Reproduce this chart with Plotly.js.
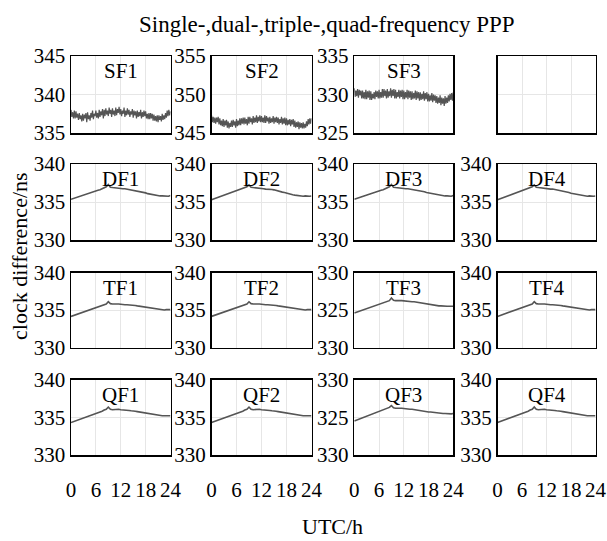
<!DOCTYPE html>
<html><head><meta charset="utf-8">
<script src="https://cdn.plot.ly/plotly-3.0.1.min.js"></script>
<style>html,body{margin:0;padding:0;background:#fff}#chart{width:607px;height:541px}</style>
</head><body><div id="chart"></div>
<script>
// sample epochs (h)
var hoursFine = [0,0.2,0.4,0.6,0.8,1,1.2,1.4,1.6,1.8,2,2.2,2.4,2.6,2.8,3,3.2,3.4,3.6,3.8,4,4.2,4.4,4.6,4.8,5,5.2,5.4,5.6,5.8,6,6.2,6.4,6.6,6.8,7,7.2,7.4,7.6,7.8,8,8.2,8.4,8.6,8.8,9,9.2,9.4,9.6,9.8,10,10.2,10.4,10.6,10.8,11,11.2,11.4,11.6,11.8,12,12.2,12.4,12.6,12.8,13,13.2,13.4,13.6,13.8,14,14.2,14.4,14.6,14.8,15,15.2,15.4,15.6,15.8,16,16.2,16.4,16.6,16.8,17,17.2,17.4,17.6,17.8,18,18.2,18.4,18.6,18.8,19,19.2,19.4,19.6,19.8,20,20.2,20.4,20.6,20.8,21,21.2,21.4,21.6,21.8,22,22.2,22.4,22.6,22.8,23,23.2,23.4,23.6,23.8,24];
var hours = [0,0.5,1,1.5,2,2.5,3,3.5,4,4.5,5,5.5,6,6.5,7,7.5,8,8.5,9,9.5,10,10.5,11,11.5,12,12.5,13,13.5,14,14.5,15,15.5,16,16.5,17,17.5,18,18.5,19,19.5,20,20.5,21,21.5,22,22.5,23,23.5,24];

// single-frequency (noisy)
var sf1 = [338.0,337.1,337.7,336.9,337.9, 336.9,337.8,337.0,337.5,336.7, 337.6,336.8,337.3,336.5,337.5,
  336.6,337.4,336.9,337.6,336.4, 337.7,336.8,337.3,336.6,337.6, 337.0,337.9,336.8,337.5,337.2,
  337.9,337.0,337.6,336.9,338.0, 337.1,337.8,337.3,338.1,336.9, 338.0,337.2,338.2,337.4,337.9,
  337.2,338.3,337.5,338.0,337.1, 338.2,337.4,337.9,337.2,338.3, 337.3,338.1,337.6,338.4,337.4,
  338.1,337.2,337.9,337.5,338.3, 337.1,337.9,337.3,338.2,337.4, 338.0,337.1,337.8,337.4,338.1,
  337.0,337.9,337.3,337.8,336.9, 337.9,337.1,337.7,337.2,338.0, 336.9,337.7,337.1,337.9,337.2,
  337.8,336.9,337.5,336.8,337.6, 336.8,337.6,336.9,337.5,336.6, 337.4,336.6,337.2,336.5,337.3,
  336.4,337.3,336.7,337.2,336.5, 337.5,336.7,337.3,336.8,337.6, 337.0,337.9,337.2,338.0,337.3, 337.8];
var sf2 = [347.3,346.4,347.1,346.3,347.0, 346.2,347.0,346.4,347.1,346.1, 346.9,346.0,346.6,345.9,346.8,
  345.8,346.6,346.0,346.7,345.7, 346.5,345.6,346.3,345.8,346.6, 345.8,346.7,346.0,346.5,345.7,
  346.8,345.9,346.6,346.0,346.9, 346.0,346.9,346.2,347.0,346.1, 347.0,346.2,346.8,346.0,347.1,
  346.2,347.1,346.4,346.9,346.1, 347.2,346.3,347.0,346.4,347.3, 346.3,347.1,346.5,347.3,346.4,
  347.2,346.4,347.0,346.3,347.3, 346.3,347.2,346.5,347.0,346.2, 347.1,346.3,346.9,346.4,347.2,
  346.2,347.0,346.4,347.1,346.3, 347.0,346.1,346.8,346.3,347.1, 346.1,346.9,346.2,347.0,346.0,
  346.9,346.0,346.7,346.1,346.8, 345.9,346.7,346.1,346.8,345.8, 346.6,345.7,346.4,345.8,346.5,
  345.5,346.4,345.7,346.3,345.6, 346.4,345.6,346.2,345.7,346.5, 345.9,346.8,346.1,346.9,346.2, 346.9];
var sf3 = [330.8,329.7,330.5,329.8,330.7, 329.6,330.6,329.9,330.5,329.5, 330.5,329.5,330.3,329.4,330.6,
  329.4,330.4,329.6,330.5,329.3, 330.4,329.3,330.1,329.5,330.3, 329.4,330.5,329.7,330.4,329.5,
  330.6,329.5,330.3,329.6,330.7, 329.6,330.7,329.8,330.5,329.5, 330.7,329.6,330.4,329.8,330.8,
  329.6,330.6,329.8,330.7,329.5, 330.6,329.5,330.3,329.7,330.6, 329.5,330.5,329.7,330.6,329.4,
  330.5,329.4,330.3,329.6,330.6, 329.4,330.5,329.6,330.4,329.3, 330.4,329.4,330.2,329.5,330.5,
  329.3,330.4,329.5,330.3,329.2, 330.3,329.3,330.1,329.4,330.4, 329.2,330.2,329.4,330.3,329.1,
  330.1,329.1,329.9,329.2,330.2, 329.0,330.0,329.2,329.9,328.9, 329.8,328.8,329.6,328.9,329.9,
  328.6,329.6,328.8,329.5,328.5, 329.8,328.8,329.6,328.9,329.9, 329.1,330.1,329.3,330.2,329.2, 330.3];

// dual-frequency
var df1 = [335.35,335.45,335.5,335.6,335.7,335.8,335.9,336.0,336.1,336.15,336.25,336.35,336.45,336.55,336.6,336.75,336.8,337.0,337.3,336.95,336.9,336.85,336.85,336.8,336.8,336.75,336.75,336.7,336.7,336.65,336.6,336.55,336.5,336.4,336.35,336.25,336.2,336.1,336.05,335.95,335.9,335.85,335.85,335.8,335.8,335.8,335.8,335.75,335.85];
var df2 = [335.3,335.4,335.5,335.6,335.65,335.8,335.85,336.0,336.05,336.15,336.2,336.35,336.4,336.55,336.6,336.7,336.8,337.0,337.25,336.95,336.9,336.85,336.8,336.8,336.8,336.75,336.7,336.7,336.65,336.65,336.6,336.5,336.45,336.4,336.3,336.25,336.15,336.1,336.0,335.95,335.9,335.85,335.8,335.8,335.75,335.8,335.75,335.75,335.8];
var df3 = [335.35,335.45,335.5,335.6,335.7,335.8,335.9,336.0,336.1,336.15,336.25,336.35,336.45,336.55,336.6,336.75,336.8,337.0,337.3,336.95,336.9,336.85,336.85,336.8,336.8,336.75,336.75,336.7,336.7,336.65,336.6,336.55,336.5,336.4,336.35,336.25,336.2,336.1,336.05,335.95,335.9,335.85,335.85,335.8,335.8,335.8,335.8,335.75,335.85];
var df4 = [335.3,335.4,335.5,335.6,335.65,335.8,335.85,336.0,336.05,336.15,336.2,336.35,336.4,336.55,336.6,336.7,336.8,337.0,337.25,336.95,336.9,336.85,336.8,336.8,336.8,336.75,336.7,336.7,336.65,336.65,336.6,336.5,336.45,336.4,336.3,336.25,336.15,336.1,336.0,335.95,335.9,335.85,335.8,335.8,335.75,335.8,335.75,335.75,335.8];

// triple-frequency
var tf1 = [334.15,334.25,334.3,334.4,334.5,334.55,334.65,334.75,334.85,334.95,335.05,335.15,335.3,335.4,335.45,335.6,335.7,335.8,336.1,335.85,335.8,335.85,335.8,335.8,335.75,335.75,335.7,335.7,335.7,335.65,335.6,335.6,335.55,335.5,335.45,335.4,335.35,335.3,335.25,335.2,335.15,335.1,335.05,335.05,335.0,335.0,335.05,335.0,335.05];
var tf2 = [334.15,334.25,334.3,334.4,334.5,334.55,334.65,334.75,334.85,334.95,335.05,335.15,335.3,335.4,335.45,335.6,335.7,335.8,336.1,335.85,335.8,335.85,335.8,335.8,335.75,335.75,335.7,335.7,335.7,335.65,335.6,335.6,335.55,335.5,335.45,335.4,335.35,335.3,335.25,335.2,335.15,335.1,335.05,335.05,335.0,335.0,335.05,335.0,335.05];
var tf3 = [324.6,324.7,324.75,324.85,324.95,325.0,325.1,325.2,325.3,325.4,325.5,325.6,325.75,325.85,325.9,326.05,326.15,326.25,326.6,326.3,326.25,326.3,326.25,326.25,326.2,326.2,326.15,326.15,326.1,326.1,326.05,326.0,325.95,325.9,325.85,325.8,325.75,325.7,325.7,325.65,325.6,325.55,325.55,325.5,325.5,325.5,325.5,325.45,325.5];
var tf4 = [334.15,334.25,334.3,334.4,334.5,334.55,334.65,334.75,334.85,334.95,335.05,335.15,335.3,335.4,335.45,335.6,335.7,335.8,336.1,335.85,335.8,335.85,335.8,335.8,335.75,335.75,335.7,335.7,335.7,335.65,335.6,335.6,335.55,335.5,335.45,335.4,335.35,335.3,335.25,335.2,335.15,335.1,335.05,335.05,335.0,335.0,335.05,335.0,335.05];

// quad-frequency
var qf1 = [334.3,334.4,334.45,334.55,334.65,334.75,334.85,334.95,335.05,335.15,335.25,335.35,335.5,335.6,335.7,335.8,335.95,336.05,336.35,336.05,336.0,336.05,336.0,336.05,336.0,335.95,335.95,335.9,335.9,335.85,335.85,335.8,335.75,335.7,335.65,335.6,335.55,335.5,335.45,335.4,335.35,335.3,335.3,335.25,335.2,335.2,335.2,335.15,335.2];
var qf2 = [334.3,334.4,334.45,334.55,334.65,334.75,334.85,334.95,335.05,335.15,335.25,335.35,335.5,335.6,335.7,335.8,335.95,336.05,336.35,336.05,336.0,336.05,336.0,336.05,336.0,335.95,335.95,335.9,335.9,335.85,335.85,335.8,335.75,335.7,335.65,335.6,335.55,335.5,335.45,335.4,335.35,335.3,335.3,335.25,335.2,335.2,335.2,335.15,335.2];
var qf3 = [324.5,324.6,324.7,324.8,324.9,325.0,325.1,325.2,325.3,325.4,325.5,325.6,325.75,325.85,325.95,326.05,326.2,326.3,326.55,326.25,326.2,326.25,326.2,326.2,326.15,326.1,326.1,326.05,326.05,326.0,325.95,325.95,325.9,325.85,325.8,325.75,325.7,325.7,325.65,325.6,325.55,325.55,325.5,325.5,325.5,325.45,325.5,325.45,325.5];
var qf4 = [334.3,334.4,334.45,334.55,334.65,334.75,334.85,334.95,335.05,335.15,335.25,335.35,335.5,335.6,335.7,335.8,335.95,336.05,336.35,336.05,336.0,336.05,336.0,336.05,336.0,335.95,335.95,335.9,335.9,335.85,335.85,335.8,335.75,335.7,335.65,335.6,335.55,335.5,335.45,335.4,335.35,335.3,335.3,335.25,335.2,335.2,335.2,335.15,335.2];

var xTicks = [0,6,12,18,24];
var xTickText = ['0','6','12','18','24'];
var panelNames = [['SF1','SF2','SF3',''],['DF1','DF2','DF3','DF4'],['TF1','TF2','TF3','TF4'],['QF1','QF2','QF3','QF4']];
var panelY = [[sf1,sf2,sf3,null],[df1,df2,df3,df4],[tf1,tf2,tf3,tf4],[qf1,qf2,qf3,qf4]];
var yRanges = [[[335,345],[345,355],[325,335],[0,10]],[[330,340],[330,340],[330,340],[330,340]],[[330,340],[330,340],[320,330],[330,340]],[[330,340],[330,340],[320,330],[330,340]]];
var yTickText = [[['335','340','345'],['345','350','355'],['325','330','335'],null],
  [['330','335','340'],['330','335','340'],['330','335','340'],['330','335','340']],
  [['330','335','340'],['330','335','340'],['330','325','330'],['330','335','340']],
  [['330','335','340'],['330','335','340'],['330','325','330'],['330','335','340']]];

var W = 607, H = 541;
var colPx = [[71,170.5],[211.5,311.5],[354.3,453.3],[497.5,595.5]];
var rowPx = [[56,133],[164,240],[272.5,347.5],[379.5,455]];
var FONT = 'Liberation Serif';
var TICK = 21;

var data = [], layout = {
  width: W, height: H, margin:{l:0,r:0,t:0,b:0}, showlegend:false,
  paper_bgcolor:'#fff', plot_bgcolor:'#fff',
  font:{family:FONT, size:TICK, color:'#000'}, annotations:[]
};
var k = 0;
for (var r = 0; r < 4; r++) {
  for (var c = 0; c < 4; c++) {
    k++;
    var xn = 'xaxis' + (k === 1 ? '' : k), yn = 'yaxis' + (k === 1 ? '' : k);
    var xr = 'x' + (k === 1 ? '' : k), yr = 'y' + (k === 1 ? '' : k);
    var rg = yRanges[r][c];
    var mid = (rg[0] + rg[1]) / 2;
    layout[xn] = {
      domain:[colPx[c][0]/W, colPx[c][1]/W], range:[0,24], anchor:yr,
      tickmode:'array', tickvals:xTicks, ticktext:xTickText,
      showticklabels: r === 3, ticks:'', ticklabelstandoff: 15,
      showgrid:true, gridcolor:'#e6e6e6', gridwidth:1, zeroline:false,
      showline:true, mirror:true, linecolor:'#000', linewidth:1.5,
      tickfont:{family:FONT, size:TICK, color:'#000'}, fixedrange:true
    };
    layout[yn] = {
      domain:[1 - rowPx[r][1]/H, 1 - rowPx[r][0]/H], range:rg, anchor:xr,
      tickmode:'array', tickvals:[rg[0], mid, rg[1]], ticktext: yTickText[r][c] || ['','',''],
      showticklabels: !!yTickText[r][c], ticks:'',
      showgrid:true, gridcolor:'#e6e6e6', gridwidth:1, zeroline:false,
      showline:true, mirror:true, linecolor:'#000', linewidth:1.5,
      tickfont:{family:FONT, size:TICK, color:'#000'}, fixedrange:true
    };
    data.push({
      type:'scatter', mode:'lines', xaxis:xr, yaxis:yr,
      x: panelY[r][c] ? (r === 0 ? hoursFine : hours) : [],
      y: panelY[r][c] || [],
      line:{color:'#555555', width: r === 0 ? 1.2 : 1.6}, hoverinfo:'skip'
    });
    if (panelNames[r][c]) {
      layout.annotations.push({
        xref: xr + ' domain', yref: yr + ' domain', x:0.5, y:1, xanchor:'center', yanchor:'top',
        text: panelNames[r][c], showarrow:false, yshift:-1,
        font:{family:FONT, size:21, color:'#000'}
      });
    }
  }
}
layout.annotations.push({
  xref:'paper', yref:'paper', x:327/W, y:1 - 24/H, xanchor:'center', yanchor:'middle',
  text:'Single-,dual-,triple-,quad-frequency PPP', showarrow:false,
  font:{family:FONT, size:23, color:'#000'}
});
layout.annotations.push({
  xref:'paper', yref:'paper', x:19/W, y:1 - 256/H, xanchor:'center', yanchor:'middle',
  text:'clock difference/ns', textangle:-90, showarrow:false,
  font:{family:FONT, size:22, color:'#000'}
});
layout.annotations.push({
  xref:'paper', yref:'paper', x:332/W, y:1 - 526/H, xanchor:'center', yanchor:'middle',
  text:'UTC/h', showarrow:false,
  font:{family:FONT, size:22, color:'#000'}
});
Plotly.newPlot('chart', data, layout, {displayModeBar:false, staticPlot:true});
</script></body></html>
